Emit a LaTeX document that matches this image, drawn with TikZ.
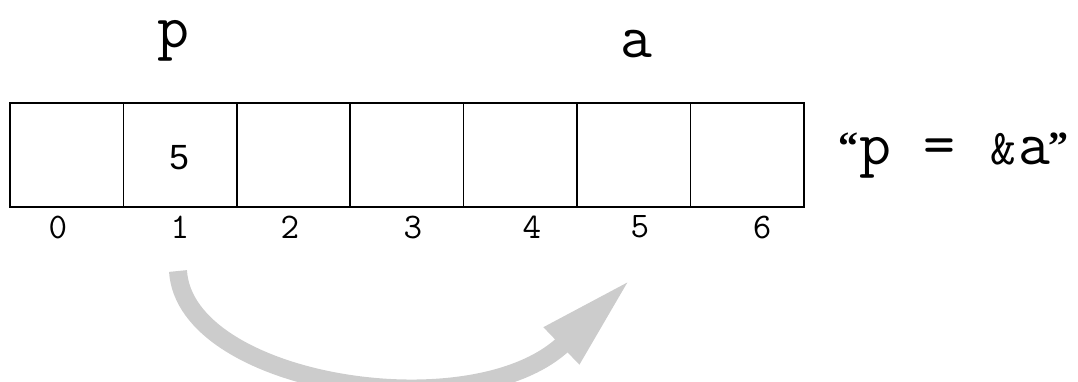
\documentclass[tikz,border=0pt]{standalone}
\usepackage{fontspec}
\newfontfamily\digitfont{Liberation Sans}
\newfontfamily\quotefont{Liberation Serif}
\usetikzlibrary{arrows.meta}

\tikzset{
  cell/.style={draw, line width=1.6pt, minimum width=113.4pt, minimum height=104pt, inner sep=0pt},
  varname/.style={font=\fontsize{62}{62}\selectfont\ttfamily, text height=30pt, inner sep=0pt},
  idx/.style={font=\fontsize{36}{36}\selectfont\ttfamily},
  pointer/.style={draw=black!20, line width=18pt, -{Triangle[length=98pt,width=46pt]}}
}
\newcommand{\qmark}[1]{\raisebox{5pt}{\fontsize{40}{40}\selectfont\quotefont\bfseries #1}}

\begin{document}
\begin{tikzpicture}[x=1pt,y=-1pt]
        \useasboundingbox (0,0) rectangle (1078,381);
        \foreach \i in {0,...,6}
            \node[cell] (c\i) at (66.7+113.4*\i,155) {};
        \foreach \i/\x in {0/58,1/180,2/290,3/413,4/532,5/640,6/762}
            \node[idx] (n\i) at (\x,227) {\i};
        \node[font=\fontsize{35}{35}\selectfont\digitfont] (val) at (179,158) {5};
        \node[varname, anchor=base] (p) at (173,47) {p};
        \node[varname, anchor=base] (a) at (636,57) {a};
        \node[font=\fontsize{62}{62}\selectfont\ttfamily, anchor=base west, inner sep=0pt] (expr) at (838,164)
            {\qmark{“}\kern1pt p = \makebox[32pt]{\fontsize{50}{50}\selectfont\&}a\kern-2pt\qmark{”}};
        \coordinate (from) at (178,271);
        \coordinate (to) at (632,278);
        \draw[pointer] (from) .. controls (185,385) and (474,430) .. (to);
    \end{tikzpicture}
\end{document}
